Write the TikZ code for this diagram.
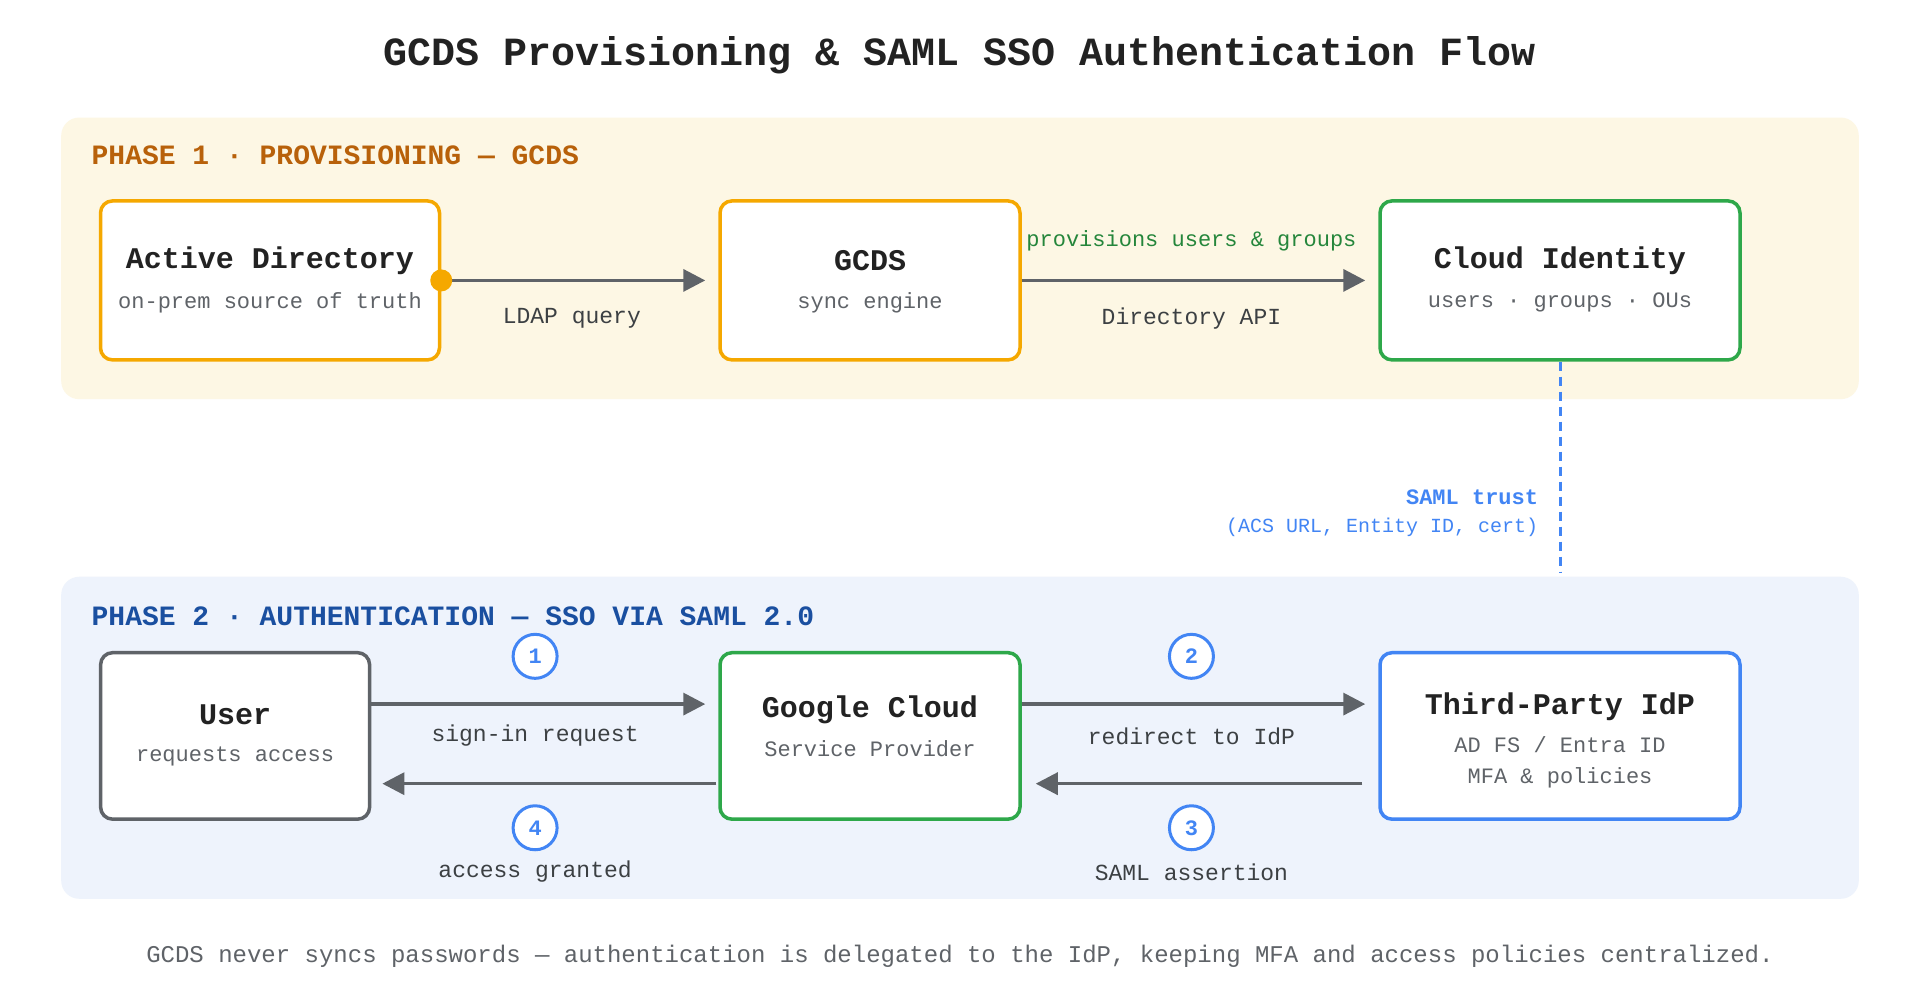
\documentclass[tikz,border=0pt]{standalone}
\usepackage{fontspec}
\setmainfont{Liberation Mono}
\usetikzlibrary{arrows.meta}
\definecolor{org}{HTML}{F5A800}
\definecolor{grn}{HTML}{2EA84A}
\definecolor{blu}{HTML}{4285F4}
\definecolor{gry}{HTML}{5F6368}
\definecolor{txt}{HTML}{222222}
\definecolor{sub}{HTML}{5F6368}
\definecolor{bgone}{HTML}{FDF7E4}
\definecolor{bgtwo}{HTML}{EEF3FC}
\definecolor{brn}{HTML}{B8610A}
\definecolor{dblu}{HTML}{1A4FA0}
\definecolor{lbl}{HTML}{3C4043}
\begin{document}
\begin{tikzpicture}[x=1.2245pt,y=-1.2245pt,
  box/.style={draw,line width=3.5pt,rounded corners=12pt,fill=white,minimum height=159pt},
  ttl/.style={font=\fontsize{30}{34}\selectfont\bfseries,text=txt},
  sbt/.style={font=\fontsize{22}{26}\selectfont,text=sub},
  elab/.style={font=\fontsize{23}{27}\selectfont,text=lbl},
  arr/.style={line width=3.5pt,draw=gry,-{Triangle[length=22pt,width=22pt]}},
  stepc/.style={circle,draw=blu,line width=3pt,fill=white,text=blu,minimum size=44pt,inner sep=0pt,font=\fontsize{22}{24}\selectfont\bfseries}]
\useasboundingbox (0,0) rectangle (1568,816.7);
\fill[white] (0,0) rectangle (1568,816.7);
\node[font=\fontsize{40}{44}\selectfont\bfseries,text=txt] (title) at (784,45) {GCDS Provisioning \& SAML SSO Authentication Flow};
% phase backgrounds
\fill[bgone,rounded corners=18pt] (50,96) rectangle (1518,326);
\fill[bgtwo,rounded corners=18pt] (50,471) rectangle (1518,734);
\node[anchor=west,font=\fontsize{28}{30}\selectfont\bfseries,text=brn] (p1) at (72,127) {PHASE 1 · PROVISIONING — GCDS};
\node[anchor=west,font=\fontsize{28}{30}\selectfont\bfseries,text=dblu] (p2) at (72,503) {PHASE 2 · AUTHENTICATION — SSO VIA SAML 2.0};
% phase 1 boxes
\node[box,draw=org,minimum width=339pt] (ad) at (220.5,229) {};
\node[box,draw=org,minimum width=300pt] (gcds) at (710.5,229) {};
\node[box,draw=grn,minimum width=360pt] (ci) at (1274,229) {};
\node[ttl] (adt) at (220.5,213) {Active Directory};
\node[sbt] (ads) at (220.5,247) {on-prem source of truth};
\node[ttl] (gct) at (710.5,213) {GCDS};
\node[sbt] (gcs) at (710.5,247) {sync engine};
\node[ttl] (cit) at (1274,213) {Cloud Identity};
\node[sbt] (cis) at (1274,247) {users · groups · OUs};
\draw[arr] (ad.east) -- ([xshift=-13pt]gcds.west);
\fill[org] (ad.east) circle (11pt);
\node[elab] (l1) at (467,260) {LDAP query};
\draw[arr] (gcds.east) -- ([xshift=-13pt]ci.west);
\node[font=\fontsize{22}{26}\selectfont,text=grn!80!black] (l2) at (973,197) {provisions users \& groups};
\node[elab] (l3) at (973,260) {Directory API};
% SAML trust
\coordinate (trustend) at (1274,467);
\draw[blu,line width=3pt,dash pattern=on 9pt off 6pt] (ci.south) -- (trustend);
\node[anchor=east,font=\fontsize{22}{26}\selectfont\bfseries,text=blu] (st) at (1259,406) {SAML trust};
\node[anchor=east,font=\fontsize{20}{24}\selectfont,text=blu] (st2) at (1259,431) {(ACS URL, Entity ID, cert)};
% phase 2 boxes
\node[box,draw=gry,minimum width=269pt,minimum height=166.5pt] (user) at (192,601) {};
\node[box,draw=grn,minimum width=300pt,minimum height=166.5pt] (gc) at (710.5,601) {};
\node[box,draw=blu,minimum width=360pt,minimum height=166.5pt] (idp) at (1274,601) {};
\node[ttl] (ut) at (192,584) {User};
\node[sbt] (us) at (192,618) {requests access};
\node[ttl] (gt) at (710.5,580) {Google Cloud};
\node[sbt] (gs) at (710.5,611) {Service Provider};
\node[ttl] (it) at (1274,577) {Third-Party IdP};
\node[sbt] (is1) at (1274,608) {AD FS / Entra ID};
\node[sbt] (is2) at (1274,635) {MFA \& policies};
\draw[arr] (user.east |- 0,575) -- ([xshift=-13pt]gc.west |- 0,575);
\draw[arr] ([xshift=-2pt]gc.west |- 0,640) -- ([xshift=11pt]user.east |- 0,640);
\draw[arr] (gc.east |- 0,575) -- ([xshift=-13pt]idp.west |- 0,575);
\draw[arr] ([xshift=-16pt]idp.west |- 0,640) -- ([xshift=14pt]gc.east |- 0,640);
\node[stepc] (s1) at (437,536) {1};
\node[stepc] (s2) at (973,536) {2};
\node[stepc] (s3) at (973,676) {3};
\node[stepc] (s4) at (437,676) {4};
\node[elab] (e1) at (437,601) {sign-in request};
\node[elab] (e2) at (973,601) {redirect to IdP};
\node[elab] (e4) at (437,712) {access granted};
\node[elab] (e3) at (973,712) {SAML assertion};
\node[font=\fontsize{24}{28}\selectfont,text=sub] (foot) at (784,781) {GCDS never syncs passwords — authentication is delegated to the IdP, keeping MFA and access policies centralized.};
\end{tikzpicture}
\end{document}
